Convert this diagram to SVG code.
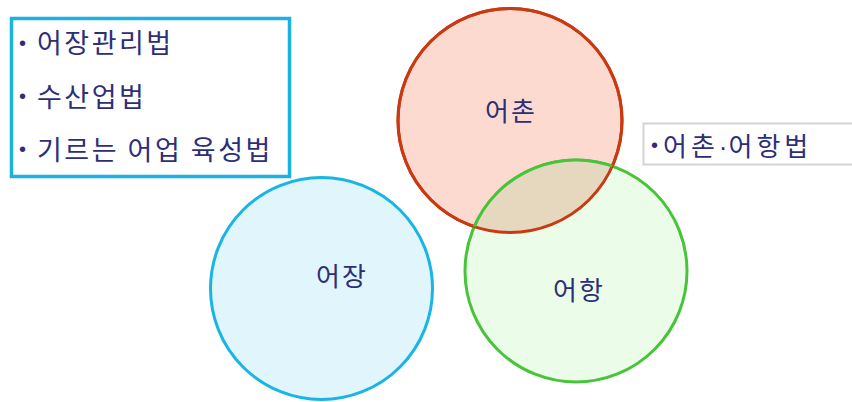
<svg xmlns="http://www.w3.org/2000/svg" width="852" height="402" viewBox="0 0 852 402">
<defs>
<style>
text{font-family:"Noto Sans CJK KR","Noto Sans",sans-serif;fill:#2e2e78}
.lbl{font-size:26px;text-anchor:middle;letter-spacing:2px}
.item{font-size:27px;letter-spacing:2.5px}
.item2{font-size:26px;letter-spacing:4px}
.bul{font-family:"Liberation Sans",sans-serif;font-size:20px}
.dot{font-family:"Liberation Sans",sans-serif}
</style>
<clipPath id="redClip"><circle cx="510" cy="120.5" r="112"/></clipPath>
</defs>
<rect width="852" height="402" fill="#ffffff"/>
<g id="law-box-left">
<rect x="11.5" y="18.5" width="278" height="158" fill="#ffffff" stroke="#1ab2e4" stroke-width="3.5"/>
<text class="bul" x="19" y="50">•</text>
<text class="item" x="37" y="53">어장관리법</text>
<text class="bul" x="19" y="103">•</text>
<text class="item" x="37" y="107">수산업법</text>
<text class="bul" x="19" y="156">•</text>
<text class="item" x="37" y="160">기르는 어업 육성법</text>
</g>
<g id="law-box-right">
<rect x="643.5" y="123.5" width="215" height="41" fill="#ffffff" stroke="#d4d4d4" stroke-width="2"/>
<text class="bul" x="651" y="152">•</text>
<text class="item2" x="663" y="156">어촌<tspan class="dot" letter-spacing="1px">·</tspan>어항법</text>
</g>
<g id="node-eojang">
<circle cx="321.5" cy="288.5" r="111" fill="#e0f6fc" stroke="#19b5e4" stroke-width="3"/>
<text class="lbl" x="342" y="286">어장</text>
</g>
<g id="node-eochon">
<circle cx="510" cy="120.5" r="112" fill="#fcdad0" stroke="#c93a12" stroke-width="3"/>
<text class="lbl" x="511" y="121">어촌</text>
</g>
<g id="node-eohang">
<circle cx="576" cy="271" r="111" fill="#ebfde8" stroke="#48c43a" stroke-width="3"/>
<circle cx="576" cy="271" r="111" fill="#e6d8bf" clip-path="url(#redClip)"/>
<circle cx="510" cy="120.5" r="112" fill="none" stroke="#c93a12" stroke-width="3"/>
<circle cx="576" cy="271" r="111" fill="none" stroke="#48c43a" stroke-width="3" clip-path="url(#redClip)"/>
<text class="lbl" x="579" y="300">어항</text>
</g>
<g id="connectors"/>
</svg>
